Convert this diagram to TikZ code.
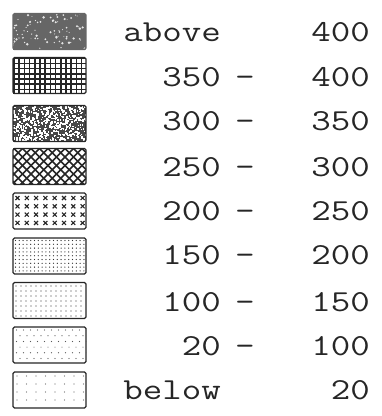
\documentclass[tikz,border=0pt]{standalone}
\usepackage{fontspec}
\usepackage{graphicx}
\newcommand\widetxt[1]{\scalebox{1.24}[1]{#1}}
\newcommand\widedash[1]{\scalebox{1.25}[1]{#1}}
\begin{document}
\begin{tikzpicture}[x=1pt,y=1pt,
  legbox/.style={minimum width=73pt, minimum height=36pt, inner sep=0pt, outer sep=0pt},
  boxline/.style={draw=black!85, line width=1.1pt, rounded corners=1.5pt},
  lab/.style={font=\ttfamily\fontsize{30.5}{30.5}\selectfont, inner sep=0pt, text=black!85},
  dotc/.style={fill=black!80}]
\useasboundingbox (0,0) rectangle (382,-416);

% ---- row 0 : above 400
\node[legbox, fill=black!60] (box0) at (49.5,-31.5) {};
\begin{scope}
\clip (box0.south west) rectangle (box0.north east);
\pgfmathsetseed{11}
\foreach \k in {1,...,80}{
  \pgfmathsetmacro\rx{13+73*rnd}
  \pgfmathsetmacro\ry{-13.5-36*rnd}
  \pgfmathsetmacro\rr{0.4+1.0*rnd}
  \fill[white!80!gray] (\rx,\ry) circle (\rr);
}
\end{scope}
\draw[boxline, draw=black!60] (box0.south west) rectangle (box0.north east);

% ---- row 1 : grid
\node[legbox, fill=black!85] (box1) at (49.5,-75.5) {};
\begin{scope}
\clip (box1.south west) rectangle (box1.north east);
\foreach \x in {14.8,20,...,86} \foreach \y in {59,64.2,...,94} \fill[white] (\x,-\y) rectangle ++(3.6,-3.6);
\end{scope}
\draw[boxline] (box1.south west) rectangle (box1.north east);

% ---- row 2 : noise
\node[legbox, fill=black!72] (box2) at (49.5,-123.5) {};
\begin{scope}
\clip (box2.south west) rectangle (box2.north east);
\pgfmathsetseed{7}
\foreach \k in {1,...,560}{
  \pgfmathsetmacro\rx{13+73*rnd}
  \pgfmathsetmacro\ry{-105.5-36*rnd}
  \pgfmathsetmacro\rr{1.0+1.1*rnd}
  \fill[white] (\rx,\ry) rectangle ++(\rr,-\rr);
}
\end{scope}
\draw[boxline] (box2.south west) rectangle (box2.north east);

% ---- row 3 : crosshatch
\node[legbox, fill=white] (box3) at (49.5,-166.5) {};
\begin{scope}
\clip (box3.south west) rectangle (box3.north east);
\foreach \s in {-37,-28.5,...,130}{
  \draw[line width=1.45pt, black!85] (\s,-148.5) -- ++(40,-40);
  \draw[line width=1.45pt, black!85] (\s,-148.5) -- ++(-40,-40);
}
\end{scope}
\draw[boxline] (box3.south west) rectangle (box3.north east);

% ---- row 4 : crosses
\node[legbox, fill=white] (box4) at (49.5,-211) {};
\begin{scope}
\clip (box4.south west) rectangle (box4.north east);
\foreach \c in {0,...,7} \foreach \r in {0,...,3}{
  \pgfmathsetmacro\cx{17.5+9.3*\c}
  \pgfmathsetmacro\cy{-(198+8.3*\r)}
  \draw[line width=1.1pt, black!85] (\cx-2,\cy-2) -- (\cx+2,\cy+2) (\cx-2,\cy+2) -- (\cx+2,\cy-2);
}
\end{scope}
\draw[boxline] (box4.south west) rectangle (box4.north east);

% ---- row 5 : dense dots
\node[legbox, fill=white] (box5) at (49.5,-256) {};
\begin{scope}
\clip (box5.south west) rectangle (box5.north east);
\foreach \x in {15.5,19.3,...,85} \foreach \y in {240.5,244.3,...,274} \fill[dotc] (\x,-\y) circle (0.65);
\end{scope}
\draw[boxline] (box5.south west) rectangle (box5.north east);

% ---- row 6 : medium dots
\node[legbox, fill=white] (box6) at (49.5,-300.5) {};
\begin{scope}
\clip (box6.south west) rectangle (box6.north east);
\foreach \x in {16,21,...,85} \foreach \y in {286,291,...,317} \fill[dotc] (\x,-\y) circle (0.65);
\end{scope}
\draw[boxline] (box6.south west) rectangle (box6.north east);

% ---- row 7 : sparse staggered dots
\node[legbox, fill=white] (box7) at (49.5,-345) {};
\begin{scope}
\clip (box7.south west) rectangle (box7.north east);
\foreach \r in {0,...,5}{
  \pgfmathsetmacro\off{mod(\r,2)*3.5}
  \foreach \c in {0,...,10}{
    \fill[black!65] (16.5+\off+7*\c,-330-5.7*\r) circle (0.6);
  }
}
\end{scope}
\draw[boxline] (box7.south west) rectangle (box7.north east);

% ---- row 8 : sparsest dots
\node[legbox, fill=white] (box8) at (49.5,-390) {};
\begin{scope}
\clip (box8.south west) rectangle (box8.north east);
\foreach \x in {17,26.5,...,85} \foreach \y in {376,384,...,407} \fill[black!60] (\x,-\y) circle (0.55);
\end{scope}
\draw[boxline] (box8.south west) rectangle (box8.north east);

% ---- labels
\foreach \i/\yc/\lt/\rt/\hasdash in {0/31.5/above/400/0, 1/76.5/350/400/1, 2/120.5/300/350/1, 3/166.5/250/300/1, 4/210.5/200/250/1, 5/254.5/150/200/1, 6/301.5/100/150/1, 7/345.5/20/100/1, 8/389.5/below/20/0}{
  \node[lab, anchor=base east] (left\i) at (221,-\yc-9.5) {\widetxt{\lt}};
  \node[lab, anchor=base east] (right\i) at (370,-\yc-9.5) {\widetxt{\rt}};
  \ifnum\hasdash=1
    \node[lab, anchor=base] (dash\i) at (245,-\yc-9.5) {\widedash{—}};
  \fi
}
\end{tikzpicture}
\end{document}
